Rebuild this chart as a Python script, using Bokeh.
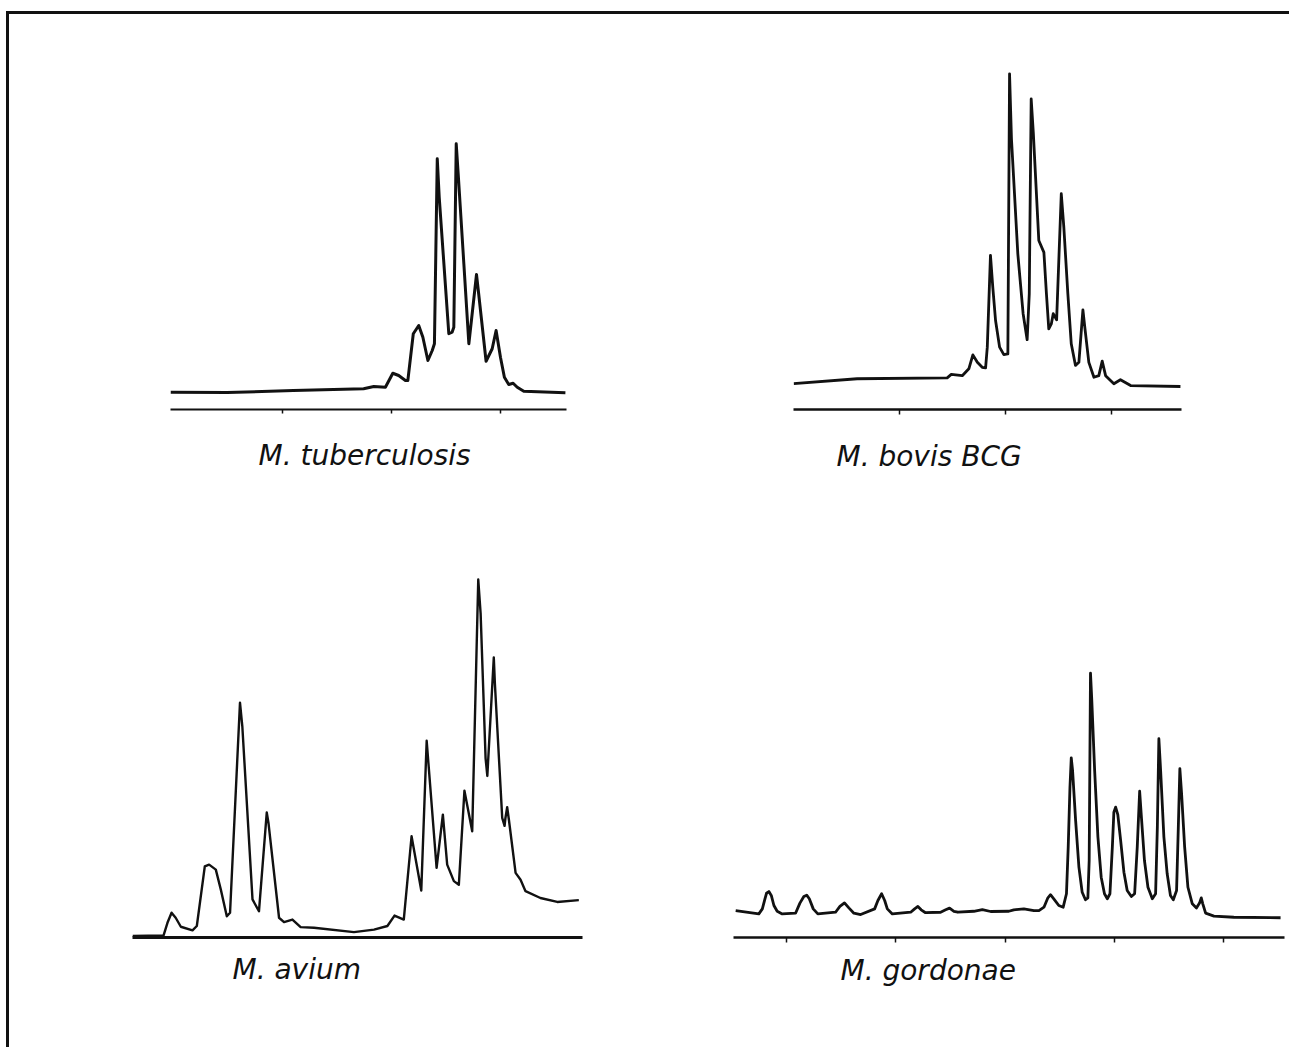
from bokeh.plotting import figure
from bokeh.layouts import column, row
from bokeh.models import Range1d, FixedTicker, CustomJSTickFormatter, Title
from bokeh.embed import file_html
from bokeh.resources import INLINE

# ---- data (time in min, relative detector response) ----
tuberculosis_time = [4.86, 7.46, 10.5, 13.72, 14.19, 14.72, 15.06, 15.33, 15.64, 15.75,
                     16.0, 16.25, 16.44, 16.67, 16.87, 16.97, 17.10, 17.19, 17.63, 17.78,
                     17.86, 17.97, 18.06, 18.32, 18.55, 18.90, 19.0, 19.34, 19.62, 19.80,
                     20.0, 20.18, 20.38, 20.58, 20.77, 21.07, 22.98]
tuberculosis_signal = [0.1, 0.0, 0.8, 1.5, 2.4, 2.1, 7.7, 6.8, 4.8, 4.8,
                       23.5, 26.8, 22.1, 12.8, 16.8, 19.5, 93.5, 78.1, 23.5, 24.1,
                       26.1, 99.5, 87.5, 51.5, 19.5, 47.2, 39.5, 12.5, 17.5, 24.8,
                       14.1, 6.1, 3.2, 3.7, 2.1, 0.5, -0.1]

bovis_time = [5.01, 8.0, 12.25, 12.44, 12.96, 13.27, 13.46, 13.67, 13.90, 14.06,
              14.14, 14.29, 14.40, 14.53, 14.72, 14.92, 15.11, 15.19, 15.28, 15.58,
              15.83, 16.02, 16.12, 16.21, 16.31, 16.57, 16.81, 16.93, 17.04, 17.16,
              17.25, 17.41, 17.63, 17.75, 17.94, 18.10, 18.30, 18.46, 18.65, 18.74,
              18.93, 19.17, 19.40, 19.56, 19.72, 20.11, 20.42, 20.90, 23.25]
bovis_signal = [0.9, 2.5, 2.8, 3.9, 3.5, 5.7, 10.2, 7.8, 6.2, 6.0,
                12.7, 42.3, 32.0, 21.3, 12.7, 10.3, 10.5, 100.9, 79.9, 42.8,
                23.5, 15.1, 29.9, 92.8, 82.0, 47.1, 43.3, 29.9, 18.6, 20.2,
                23.5, 21.5, 62.2, 51.4, 29.9, 13.8, 6.8, 7.8, 24.7, 19.1,
                7.8, 3.0, 3.5, 8.2, 3.5, 0.9, 2.2, 0.3, 0.0]

avium_time = [0.0, 1.44, 1.62, 1.81, 2.0, 2.24, 2.78, 2.98, 3.35, 3.55,
              3.86, 4.09, 4.37, 4.52, 4.98, 5.09, 5.56, 5.86, 6.22, 6.30,
              6.79, 7.02, 7.41, 7.79, 8.41, 10.26, 11.19, 11.81, 12.14, 12.57,
              12.93, 13.38, 13.63, 14.09, 14.38, 14.58, 14.89, 15.12, 15.38, 15.74,
              16.02, 16.13, 16.36, 16.44, 16.74, 16.79, 17.13, 17.24, 17.28, 17.36,
              17.44, 17.75, 17.98, 18.21, 18.90, 19.68, 20.68]
avium_signal = [0.1, 0.3, 3.8, 6.6, 5.2, 2.7, 1.7, 2.9, 19.5, 20.0,
                18.6, 13.1, 5.6, 6.6, 65.1, 58.4, 10.3, 7.0, 34.5, 31.6,
                5.2, 4.0, 4.7, 2.6, 2.4, 1.2, 1.9, 2.9, 5.8, 4.7,
                27.9, 12.8, 54.5, 19.1, 33.9, 20.0, 15.4, 14.4, 40.6, 29.3,
                99.4, 89.9, 49.6, 44.7, 77.7, 70.5, 33.0, 30.8, 33.0, 36.0,
                32.5, 17.7, 15.8, 12.6, 10.7, 9.6, 10.1]

gordonae_time = [2.67, 3.73, 3.89, 4.01, 4.08, 4.19, 4.30, 4.42, 4.57, 4.80,
                 5.41, 5.61, 5.79, 5.92, 6.04, 6.22, 6.43,
                 7.24, 7.44, 7.65, 7.85, 8.08, 8.39,
                 9.03, 9.18, 9.35, 9.49, 9.61, 9.84,
                 10.68, 10.86, 11.01, 11.16, 11.36,
                 12.05, 12.28, 12.46, 12.66, 12.84,
                 13.57, 13.96, 14.34, 15.17, 15.40, 15.86, 16.32, 16.55,
                 16.78, 16.96, 17.08, 17.23, 17.46, 17.66,
                 17.81, 17.89, 17.97, 18.03, 18.09, 18.23, 18.38, 18.53, 18.68, 18.79, 18.85,
                 18.91, 18.97, 19.10, 19.25, 19.40, 19.55, 19.68, 19.80, 19.91,
                 19.98, 20.06, 20.16, 20.29, 20.44, 20.59, 20.78, 20.93, 21.05,
                 21.16, 21.23, 21.38, 21.54, 21.74, 21.89, 21.97,
                 22.04, 22.12, 22.27, 22.42, 22.57, 22.70, 22.85, 22.93,
                 23.00, 23.08, 23.22, 23.37, 23.57, 23.76, 23.90, 23.98, 24.05, 24.18,
                 24.56, 25.47, 27.61]
gordonae_signal = [0.4, -1.0, 1.1, 5.3, 7.6, 8.3, 6.7, 2.5, 0.1, -1.0,
                   -0.7, 3.5, 6.25, 6.8, 5.3, 1.1, -1.0,
                   -0.3, 2.1, 3.6, 1.5, -0.7, -1.25,
                   1.1, 4.6, 7.4, 4.6, 1.1, -1.0,
                   -0.3, 1.1, 2.1, 0.7, -0.5,
                   -0.3, 0.7, 1.4, 0.1, -0.3,
                   0.1, 0.8, 0.0, 0.1, 0.7, 1.1, 0.4, 0.4,
                   1.8, 5.7, 7.0, 5.3, 2.5, 1.8,
                   7.4, 26.8, 51.8, 64.0, 58.75, 37.9, 18.5, 8.0, 4.9, 5.7, 21.25,
                   99.3, 87.9, 58.75, 31.0, 14.3, 7.4, 5.3, 7.4, 26.8,
                   41.4, 43.5, 40.4, 29.6, 16.4, 8.75, 6.25, 7.4, 26.8,
                   50.1, 40.7, 21.25, 10.1, 5.3, 7.4, 35.1,
                   72.0, 58.75, 31.0, 15.7, 6.7, 4.9, 8.75, 35.1,
                   59.5, 49.0, 26.8, 10.1, 3.2, 1.5, 3.5, 5.7, 3.2, -0.7,
                   -1.9, -2.4, -2.6]

species = ["M. tuberculosis", "M. bovis BCG", "M. avium", "M. gordonae"]
tuberculosis_ticks = [10, 15, 20]
bovis_ticks = [10, 15, 20]
avium_ticks = []
gordonae_ticks = [5, 10, 15, 20, 25]

INK = "#111111"


def panel(time, signal, ticks, name, width, height, borders, xr, yr,
          label_offset, label_standoff, axis_w, tick_len, trace_w):
    left, right, top, bottom = borders
    p = figure(width=width, height=height, output_backend="svg", toolbar_location=None,
               x_range=Range1d(*xr), y_range=Range1d(*yr),
               min_border_left=left, min_border_right=right,
               min_border_top=top, min_border_bottom=bottom)
    p.line(time, signal, line_color=INK, line_width=trace_w, line_join="round")
    p.yaxis.visible = False
    p.xgrid.visible = False
    p.ygrid.visible = False
    p.outline_line_color = None
    ax = p.xaxis[0]
    ax.ticker = FixedTicker(ticks=ticks)
    ax.formatter = CustomJSTickFormatter(code="return ''")
    ax.axis_line_color = INK
    ax.axis_line_width = axis_w
    ax.major_tick_line_color = INK
    ax.major_tick_line_width = 1.5
    ax.major_tick_in = 0
    ax.major_tick_out = tick_len
    ax.minor_tick_in = 0
    ax.minor_tick_out = 0
    ax.major_label_standoff = 0
    p.add_layout(Title(text=name, align="left", offset=label_offset,
                       text_font="DejaVu Sans", text_font_size="28px",
                       text_font_style="italic", text_color=INK,
                       standoff=label_standoff), "below")
    return p


p1 = panel(tuberculosis_time, tuberculosis_signal, tuberculosis_ticks, species[0],
           651, 506, (161, 94, 46, 111), (4.86, 23.03), (-6.8, 132.8), 88, 46, 2.2, 4, 3.0)
p2 = panel(bovis_time, bovis_signal, bovis_ticks, species[1],
           629, 506, (133, 108, 46, 111), (5.0, 23.30), (-7.42, 105.2), 43, 46, 2.5, 5, 2.8)
p3 = panel(avium_time, avium_signal, avium_ticks, species[2],
           651, 527, (123, 78, 40, 110), (0.0, 20.85), (-0.3, 104.7), 100, 26, 3, 0, 2.4)
p4 = panel(gordonae_time, gordonae_signal, gordonae_ticks, species[3],
           629, 527, (73, 5, 40, 110), (2.57, 27.79), (-10.83, 146.25), 107, 18, 2.5, 5, 2.8)

layout = column(row(p1, p2), row(p3, p4), margin=(11, 0, 0, 6),
                styles={"border-top": "3px solid #111111", "border-left": "3px solid #111111"})

open("out.html", "w").write(file_html(layout, INLINE))
